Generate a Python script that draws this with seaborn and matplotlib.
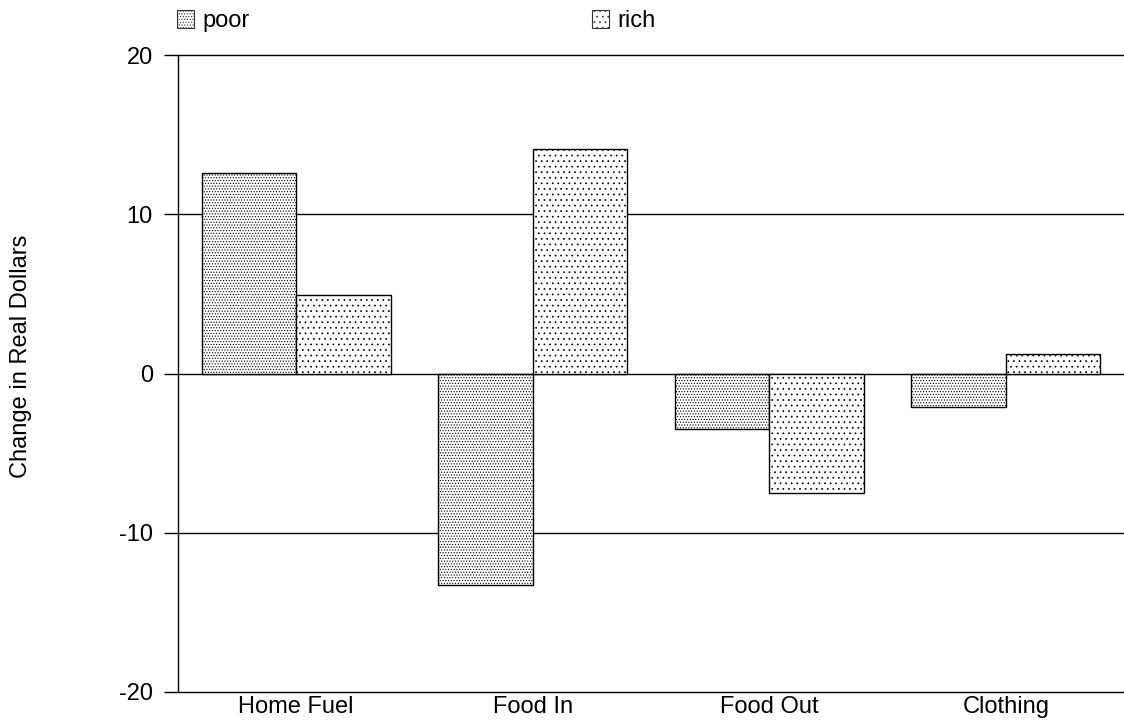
import matplotlib
matplotlib.use("Agg")
import matplotlib.pyplot as plt
from matplotlib.patches import Patch
import seaborn as sns
import pandas as pd

categories = ["Home Fuel", "Food In", "Food Out", "Clothing"]
groups = ["poor", "rich"]
poor_values = [12.6, -13.3, -3.5, -2.1]
rich_values = [4.9, 14.1, -7.5, 1.25]
y_ticks = [-20, -10, 0, 10, 20]
y_label = "Change in Real Dollars"

df = pd.DataFrame({
    "category": categories * 2,
    "group": ["poor"] * len(categories) + ["rich"] * len(categories),
    "value": poor_values + rich_values,
})

sns.set_style("white")
plt.rcParams["font.family"] = ["Liberation Sans", "DejaVu Sans"]
plt.rcParams["text.color"] = "black"
plt.rcParams["hatch.color"] = "#707070"
plt.rcParams["hatch.linewidth"] = 0.5

fig = plt.figure(figsize=(11.24, 7.23), dpi=100)
ax = fig.add_axes([178 / 1124, 1 - 692 / 723, 1 - 178 / 1124, (692 - 55) / 723])

sns.barplot(data=df, x="category", y="value", hue="group", order=categories,
            hue_order=groups, palette=["white", "white"], width=0.8,
            edgecolor="black", linewidth=1.0, saturation=1, ax=ax, legend=False,
            zorder=3)

hatches = {"poor": "......", "rich": "..."}
for cont, g in zip(ax.containers, groups):
    for bar in cont:
        bar.set_hatch(hatches[g])
        bar.set_facecolor("white")
        bar.set_edgecolor("black")

ax.set_ylim(-20, 20)
ax.set_yticks(y_ticks)
ax.set_yticklabels([str(v) for v in y_ticks])
ax.set_xlim(-0.5, len(categories) - 0.5)
ax.yaxis.grid(True, color="black", linewidth=1.0, zorder=0)
ax.set_axisbelow(True)
for line in ax.get_ygridlines():
    line.set_clip_on(False)
for s in ["top", "right", "bottom"]:
    ax.spines[s].set_visible(False)
ax.spines["left"].set_color("black")
ax.spines["left"].set_linewidth(1.0)
ax.tick_params(axis="y", which="major", left=True, length=10, width=1.0,
               color="black", pad=8, labelsize=17, labelcolor="black")
ax.tick_params(axis="x", bottom=False, length=0, pad=3, labelsize=17,
               labelcolor="black")
ax.set_xlabel("")
ax.set_ylabel("")

fig.text(21 / 1124, 1 - 356 / 723, y_label, rotation=90, ha="center",
         va="center", fontsize=17, color="black")

handles = [Patch(facecolor="white", edgecolor="#333333", hatch=hatches[g],
                 linewidth=0.8, label=g) for g in groups]
fig.legend(handles=handles, labels=groups, loc="center left",
           bbox_to_anchor=(177 / 1124, 1 - 21 / 723), ncol=2, frameon=False,
           fontsize=17, handlelength=0.72, handleheight=0.8, handletextpad=0.35,
           columnspacing=14.5, borderpad=0, borderaxespad=0,
           labelcolor="black")

fig.savefig("out.png", dpi=100)
